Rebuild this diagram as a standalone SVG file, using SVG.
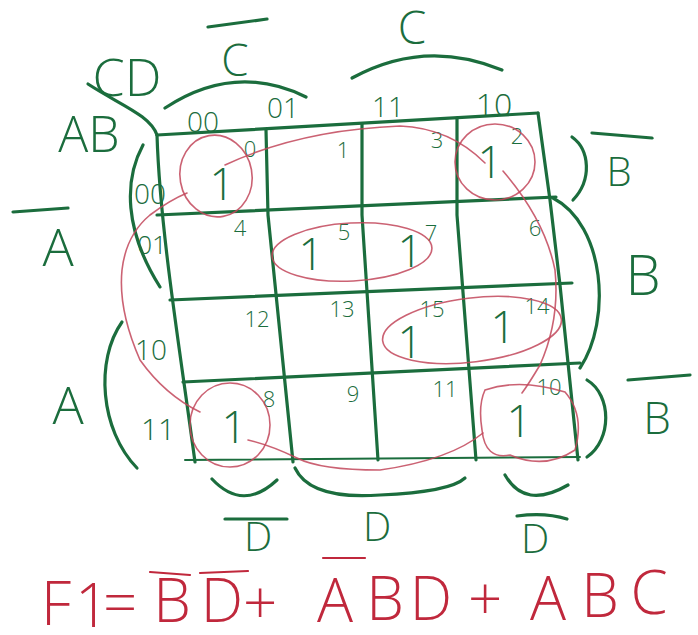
<svg xmlns="http://www.w3.org/2000/svg" width="698" height="635" viewBox="0 0 698 635">
<style>
.g{fill:none;stroke:#1b6d3d;stroke-width:3.2;stroke-linecap:round;stroke-linejoin:round}
.r{fill:none;stroke:#c2465a;stroke-width:1.6;stroke-linecap:round;opacity:0.85}
.ro{fill:none;stroke:#c0283c;stroke-width:2.2;stroke-linecap:round}
.t{font-family:"Open Sans","Liberation Sans",sans-serif;font-weight:300;fill:#1b6d3d;text-anchor:middle}
.n{font-size:22px}
.one{font-size:44px}
.f{font-family:"Open Sans","Liberation Sans",sans-serif;font-weight:300;fill:#c0283c;text-anchor:middle;font-size:60px}
</style>
<rect width="698" height="635" fill="#ffffff"/>

<g id="grid">
  <path class="g" d="M157,135 L538,113"/>
  <path class="g" d="M157,215 L556,197"/>
  <path class="g" d="M170,300 L572,283"/>
  <path class="g" d="M183,382 L580,363"/>
  <path class="g" style="stroke-width:2" d="M185,460 L580,457"/>
  <path class="g" d="M157,135 C160,230 180,350 195,462"/>
  <path class="g" d="M266,130 L268,215 L293,462"/>
  <path class="g" d="M362,124 L362,215 L378,460"/>
  <path class="g" d="M457,118 L457,215 L476,460"/>
  <path class="g" d="M538,113 L550,200 L560,285 L578,460"/>
</g>

<g id="headers">
  <path class="g" d="M88,84 C120,105 150,115 157,135"/>
  <text class="t" x="127" y="96" font-size="52">CD</text>
  <text class="t" x="89" y="152" font-size="50">AB</text>
  <path class="g" d="M208,27 L267,19"/>
  <text class="t" x="235" y="76" font-size="44">C</text>
  <path class="g" d="M165,108 Q235,62 306,97"/>
  <text class="t" x="203" y="132" font-size="28">00</text>
  <text class="t" x="283" y="118" font-size="28">01</text>
  <text class="t" x="412" y="44" font-size="46">C</text>
  <path class="g" d="M352,78 Q425,38 502,70"/>
  <text class="t" x="388" y="117" font-size="28">11</text>
  <text class="t" x="494" y="116" font-size="32">10</text>

  <path class="g" d="M143,145 C124,180 124,230 160,287"/>
  <text class="t" x="150" y="204" font-size="28">00</text>
  <text class="t" x="152" y="254" font-size="26">01</text>
  <path class="g" d="M13,212 L68,208"/>
  <text class="t" x="58" y="266" font-size="52">A</text>
  <path class="g" d="M122,322 C95,360 100,430 137,468"/>
  <text class="t" x="151" y="360" font-size="28">10</text>
  <text class="t" x="158" y="440" font-size="30">11</text>
  <text class="t" x="68" y="424" font-size="52">A</text>

  <path class="g" d="M572,137 C590,150 592,180 573,200"/>
  <path class="g" d="M592,133 L652,138"/>
  <text class="t" x="619" y="186" font-size="40">B</text>
  <path class="g" d="M553,198 C605,225 612,320 580,368"/>
  <text class="t" x="643" y="295" font-size="56">B</text>
  <path class="g" d="M587,380 C612,395 612,440 587,457"/>
  <path class="g" d="M628,380 L690,375"/>
  <text class="t" x="657" y="434" font-size="44">B</text>

  <path class="g" d="M212,479 Q243,512 277,480"/>
  <path class="g" d="M295,468 Q310,500 380,495 Q450,492 465,478"/>
  <path class="g" d="M505,475 Q525,510 568,485"/>
  <path class="g" d="M225,519 L287,519"/>
  <text class="t" x="258" y="551" font-size="40">D</text>
  <text class="t" x="377" y="541" font-size="40">D</text>
  <path class="g" d="M517,516 Q545,512 567,519"/>
  <text class="t" x="535" y="553" font-size="40">D</text>
</g>

<g id="cells">
  <text class="t n" x="250" y="157">0</text>
  <text class="t n" x="343" y="158">1</text>
  <text class="t n" x="437" y="148">3</text>
  <text class="t n" x="517" y="144">2</text>
  <text class="t n" x="240" y="236">4</text>
  <text class="t n" x="344" y="240">5</text>
  <text class="t n" x="431" y="241">7</text>
  <text class="t n" x="535" y="236">6</text>
  <text class="t n" x="257" y="327">12</text>
  <text class="t n" x="342" y="317">13</text>
  <text class="t n" x="432" y="317">15</text>
  <text class="t n" x="537" y="314">14</text>
  <text class="t n" x="269" y="407">8</text>
  <text class="t n" x="353" y="402">9</text>
  <text class="t n" x="445" y="397">11</text>
  <text class="t n" x="549" y="395">10</text>

  <text class="t one" x="222" y="200">1</text>
  <text class="t one" x="490" y="178">1</text>
  <text class="t one" x="311" y="270">1</text>
  <text class="t one" x="410" y="267">1</text>
  <text class="t one" x="410" y="358">1</text>
  <text class="t one" x="503" y="343">1</text>
  <text class="t one" x="234" y="443">1</text>
  <text class="t one" x="519" y="437">1</text>
</g>

<g id="groups">
  <ellipse class="r" cx="216" cy="176" rx="36" ry="41" transform="rotate(-10 216 176)"/>
  <ellipse class="r" cx="495" cy="162" rx="40" ry="38"/>
  <ellipse class="r" cx="352" cy="252" rx="80" ry="29" transform="rotate(-3 352 252)"/>
  <ellipse class="r" cx="472" cy="330" rx="90" ry="32" transform="rotate(-7 472 330)"/>
  <ellipse class="r" cx="230" cy="425" rx="40" ry="42"/>
  <path class="r" d="M485,390 Q520,378 565,392 Q585,415 575,450 Q545,470 510,455 Q485,460 482,430 Q478,405 485,390 Z"/>
  <path class="r" d="M225,165 Q300,130 400,126 Q450,128 485,163"/>
  <path class="r" d="M503,171 Q545,220 555,270 Q560,320 540,365 Q528,385 522,393"/>
  <path class="r" d="M483,433 Q450,460 380,470 Q320,470 297,458 Q270,445 248,440"/>
  <path class="r" d="M200,412 Q165,395 140,360 Q118,310 122,270 Q126,235 150,215 Q170,200 187,193"/>
</g>

<g id="formula">
  <text class="f" x="56" y="625">F</text>
  <text class="f" x="92" y="627" font-size="40">1</text>
  <text class="f" x="120" y="624">=</text>
  <path class="ro" d="M150,572 L190,575"/>
  <text class="f" x="172" y="622">B</text>
  <path class="ro" d="M200,573 L248,571"/>
  <text class="f" x="222" y="622">D</text>
  <text class="f" x="260" y="624">+</text>
  <path class="ro" d="M323,558 L365,558"/>
  <text class="f" x="335" y="622">A</text>
  <text class="f" x="385" y="620">B</text>
  <text class="f" x="431" y="620">D</text>
  <text class="f" x="485" y="620">+</text>
  <text class="f" x="548" y="620">A</text>
  <text class="f" x="600" y="617">B</text>
  <text class="f" x="649" y="614">C</text>
</g>
</svg>
